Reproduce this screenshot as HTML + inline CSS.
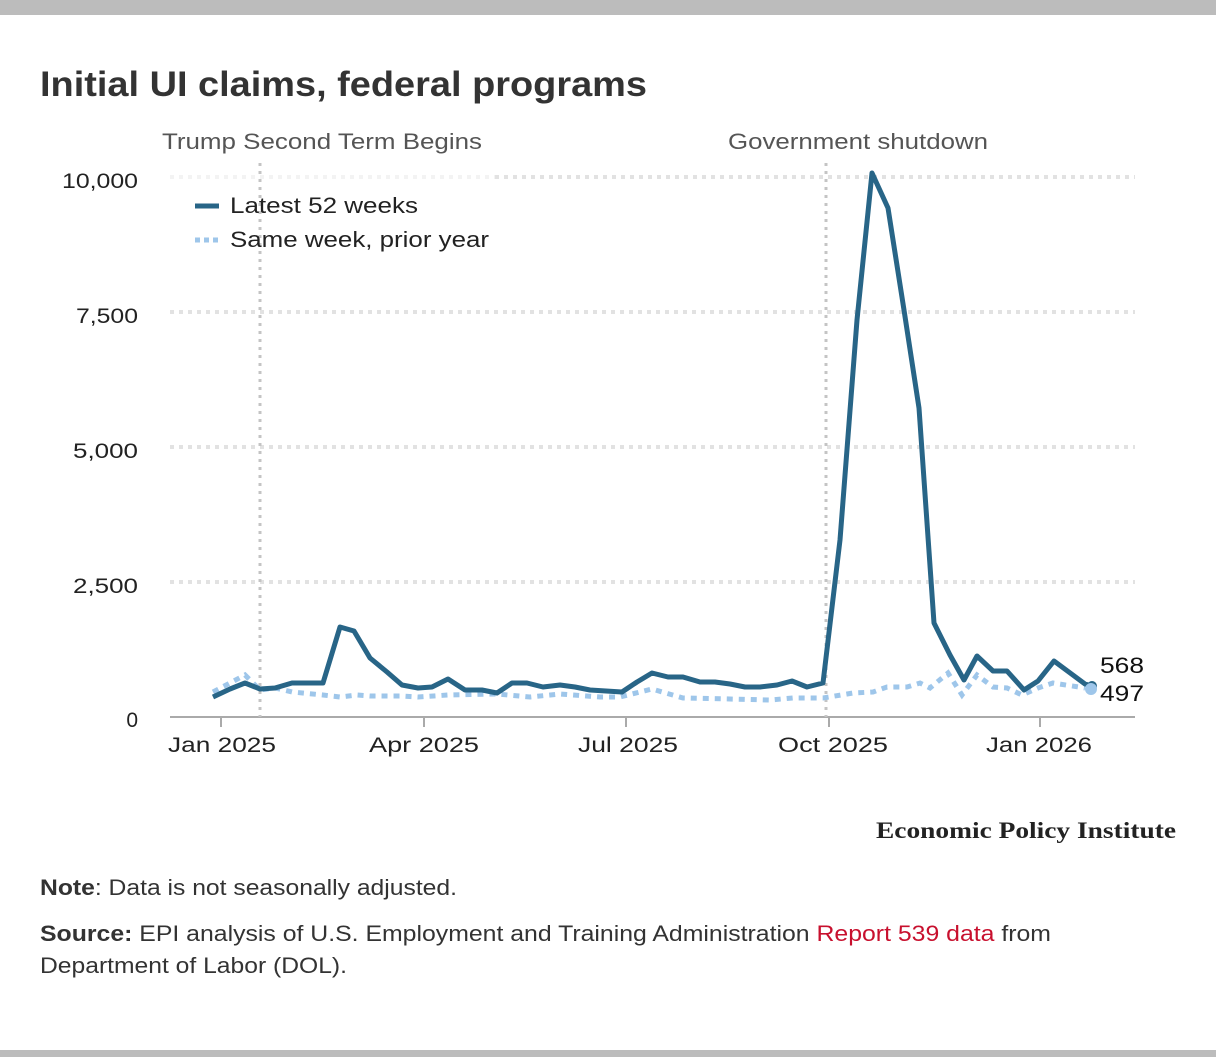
<!DOCTYPE html>
<html><head><meta charset="utf-8"><style>
body{margin:0;width:1216px;height:1057px;background:#fff;font-family:"Liberation Sans",sans-serif;position:relative;overflow:hidden}
.bar{position:absolute;left:0;width:1216px;background:#bcbcbc}
</style></head><body>
<div class="bar" style="top:0;height:15px"></div>
<div class="bar" style="top:1050px;height:7px"></div>
<svg width="1216" height="1057" style="position:absolute;left:0;top:0" font-family="Liberation Sans, sans-serif">
<text x="40" y="96" font-size="35" font-weight="bold" fill="#333" textLength="607" lengthAdjust="spacingAndGlyphs">Initial UI claims, federal programs</text>
<g stroke="#e2e2e2" stroke-width="4" stroke-dasharray="4,5">
<line x1="495" x2="1135" y1="177" y2="177"/><line x1="170" x2="1135" y1="312" y2="312"/>
<line x1="170" x2="1135" y1="447" y2="447"/><line x1="170" x2="1135" y1="582" y2="582"/>
</g>
<line x1="170" x2="495" y1="177" y2="177" stroke="#f3f3f3" stroke-width="4" stroke-dasharray="4,5"/>
<line x1="170" x2="1135" y1="717" y2="717" stroke="#aaa" stroke-width="2"/>
<g stroke="#aaa" stroke-width="2"><line x1="221" x2="221" y1="717" y2="727"/><line x1="424" x2="424" y1="717" y2="727"/><line x1="626" x2="626" y1="717" y2="727"/><line x1="829" x2="829" y1="717" y2="727"/><line x1="1040" x2="1040" y1="717" y2="727"/></g>
<g stroke="#c4c4c4" stroke-width="3" stroke-dasharray="3,5"><line x1="260" x2="260" y1="163" y2="717"/><line x1="826" x2="826" y1="163" y2="717"/></g>
<g font-size="22" fill="#555"><text x="162" y="149" textLength="320" lengthAdjust="spacingAndGlyphs">Trump Second Term Begins</text><text x="728" y="149" textLength="260" lengthAdjust="spacingAndGlyphs">Government shutdown</text></g>
<g font-size="21" fill="#222" text-anchor="end"><text x="138" y="188" textLength="76" lengthAdjust="spacingAndGlyphs">10,000</text><text x="138" y="323" textLength="62" lengthAdjust="spacingAndGlyphs">7,500</text><text x="138" y="458" textLength="65" lengthAdjust="spacingAndGlyphs">5,000</text><text x="138" y="593" textLength="65" lengthAdjust="spacingAndGlyphs">2,500</text><text x="138" y="727">0</text></g>
<g font-size="21" fill="#222" text-anchor="middle"><text x="222" y="752" textLength="108" lengthAdjust="spacingAndGlyphs">Jan 2025</text><text x="424" y="752" textLength="110" lengthAdjust="spacingAndGlyphs">Apr 2025</text><text x="628" y="752" textLength="100" lengthAdjust="spacingAndGlyphs">Jul 2025</text><text x="833" y="752" textLength="110" lengthAdjust="spacingAndGlyphs">Oct 2025</text><text x="1039" y="752" textLength="106" lengthAdjust="spacingAndGlyphs">Jan 2026</text></g>
<line x1="195" x2="219" y1="206" y2="206" stroke="#286587" stroke-width="5"/>
<line x1="195" x2="219" y1="240" y2="240" stroke="#9ec6ea" stroke-width="5" stroke-dasharray="5,4"/>
<g font-size="22" fill="#222"><text x="230" y="213" textLength="188" lengthAdjust="spacingAndGlyphs">Latest 52 weeks</text><text x="230" y="247" textLength="259" lengthAdjust="spacingAndGlyphs">Same week, prior year</text></g>
<polyline fill="none" stroke="#9ec6ea" stroke-width="5" stroke-dasharray="6,6" points="213,692 245,675 260,690 275,688 292,692 323,695 340,697 357,695 370,696 402,696 418,697 448,695 497,694 530,697 560,694 600,697 620,697 652,689 683,698 730,699 770,700 793,698 823,698 853,693 873,692 887,687 907,687 920,683 930,688 948,673 962,695 977,675 993,687 1007,688 1022,695 1038,688 1053,683 1085,688"/>
<polyline fill="none" stroke="#286587" stroke-width="5" stroke-linejoin="round" points="213,697 230,689 245,683 260,689 275,688 292,683 323,683 340,627 354,631 370,658 387,672 402,685 418,688 432,687 448,679 465,690 482,690 497,693 512,683 527,683 543,687 560,685 575,687 590,690 622,692 637,682 652,673 668,677 683,677 700,682 715,682 730,684 745,687 760,687 777,685 792,681 807,687 823,683 840,540 857,320 872,173 888,208 904,310 919,408 934,623 950,655 964,680 977,656 993,671 1007,671 1024,690 1038,681 1054,661 1085,684 1092,686"/>
<circle cx="1092" cy="686" r="5" fill="#286587"/>
<circle cx="1091" cy="689" r="6" fill="#9ec6ea"/>
<g font-size="22" fill="#111"><text x="1100" y="673" textLength="44" lengthAdjust="spacingAndGlyphs">568</text><text x="1100" y="701" textLength="44" lengthAdjust="spacingAndGlyphs">497</text></g>
<text x="1176" y="838" font-family="Liberation Serif, serif" font-size="23" font-weight="bold" fill="#222" text-anchor="end" textLength="300" lengthAdjust="spacingAndGlyphs">Economic Policy Institute</text>
<g font-size="22" fill="#333">
<text x="40" y="895" textLength="417" lengthAdjust="spacingAndGlyphs"><tspan font-weight="bold">Note</tspan>: Data is not seasonally adjusted.</text>
<text x="40" y="941" textLength="1011" lengthAdjust="spacingAndGlyphs"><tspan font-weight="bold">Source:</tspan> EPI analysis of U.S. Employment and Training Administration <tspan fill="#c8102e">Report 539 data</tspan> from</text>
<text x="40" y="973" textLength="307" lengthAdjust="spacingAndGlyphs">Department of Labor (DOL).</text>
</g>
</svg>
</body></html>
